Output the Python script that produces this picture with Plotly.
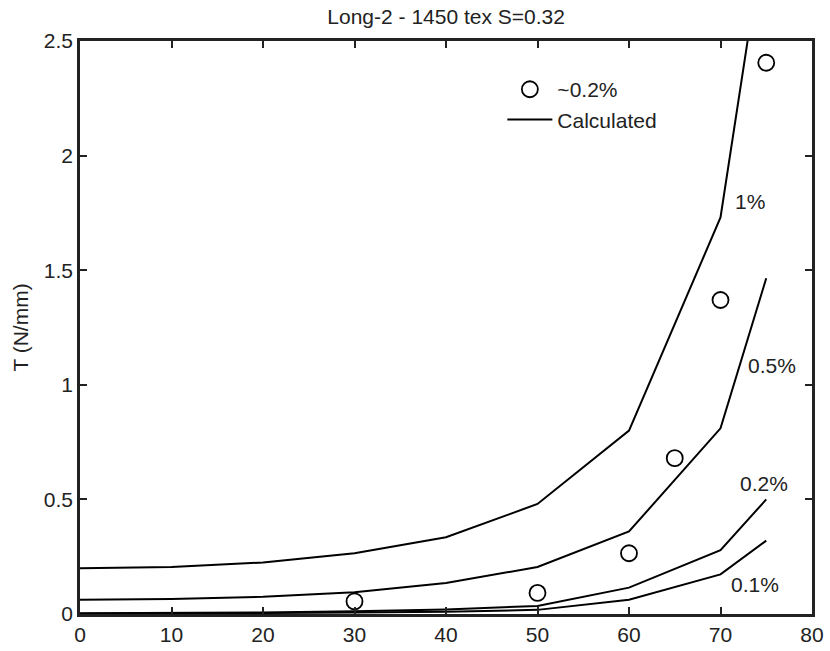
import plotly.graph_objects as go

x_calc = [0, 10, 20, 30, 40, 50, 60, 70, 75]
t_1pct = [0.20, 0.205, 0.225, 0.265, 0.335, 0.48, 0.80, 1.73, 3.03]
t_05pct = [0.062, 0.065, 0.075, 0.095, 0.135, 0.205, 0.36, 0.81, 1.465]
t_02pct = [0.003, 0.004, 0.007, 0.012, 0.02, 0.035, 0.115, 0.278, 0.50]
t_01pct = [0.001, 0.002, 0.004, 0.006, 0.01, 0.018, 0.062, 0.173, 0.32]

x_meas = [30, 50, 60, 65, 70, 75]
t_meas = [0.055, 0.092, 0.265, 0.68, 1.37, 2.405]

curve_labels = ["1%", "0.5%", "0.2%", "0.1%"]
label_x = [73.2, 75.6, 74.7, 73.8]
label_y = [1.80, 1.086, 0.571, 0.127]

title_text = "Long-2 - 1450 tex S=0.32"
y_title = "T (N/mm)"
x_ticks = [0, 10, 20, 30, 40, 50, 60, 70, 80]
y_ticks = [0, 0.5, 1, 1.5, 2, 2.5]
y_ticktext = ["0", "0.5", "1", "1.5", "2", "2.5"]

FONT = "Arial, Liberation Sans, sans-serif"
FS = 21
fig = go.Figure()

fig.add_trace(go.Scatter(
    x=x_meas, y=t_meas, mode="markers", name="~0.2%",
    marker=dict(symbol="circle-open", size=16, color="black", line=dict(width=1.8, color="black")),
))

series = [t_1pct, t_05pct, t_02pct, t_01pct]
for i, s in enumerate(series):
    fig.add_trace(go.Scatter(
        x=x_calc, y=s, mode="lines", name="Calculated",
        line=dict(color="black", width=2),
        showlegend=(i == 0), legendgroup="calc",
    ))

for lab, lx, ly in zip(curve_labels, label_x, label_y):
    fig.add_annotation(x=lx, y=ly, text=lab, showarrow=False, xanchor="center", yanchor="middle",
                       font=dict(family=FONT, size=FS, color="#222"))

axis_common = dict(
    showline=True, linewidth=2.5, linecolor="#222", mirror="allticks",
    ticks="inside", ticklen=7, tickwidth=1.5, tickcolor="#222",
    showgrid=False, zeroline=False, automargin=False,
    tickfont=dict(family=FONT, size=FS, color="#222"),
)

fig.update_layout(
    width=830, height=651,
    margin=dict(l=80, r=18, t=41, b=37),
    paper_bgcolor="white", plot_bgcolor="white",
    title=dict(text=title_text, x=0.5375, xanchor="center", y=0.974, yanchor="middle",
               font=dict(family=FONT, size=FS, color="#222")),
    xaxis=dict(range=[0, 80], tickvals=x_ticks, **axis_common),
    yaxis=dict(range=[0, 2.5], tickvals=y_ticks, ticktext=y_ticktext,
               title=dict(text=y_title, font=dict(family=FONT, size=FS, color="#222"), standoff=10),
               **axis_common),
    legend=dict(x=0.577, y=0.951, xanchor="left", yanchor="top", bgcolor="rgba(0,0,0,0)",
                font=dict(family=FONT, size=FS, color="#222"), itemwidth=45, tracegroupgap=0),
    showlegend=True,
)

fig.write_html("out.html")
